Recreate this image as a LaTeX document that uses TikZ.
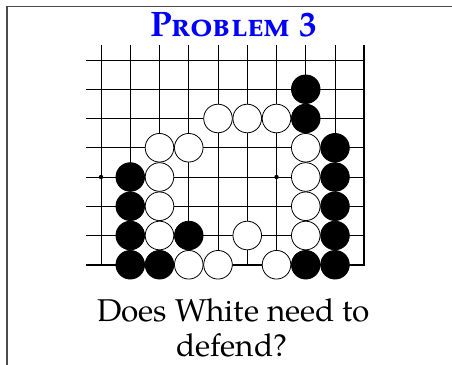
\documentclass[tikz,border=0pt]{standalone}
\usepackage{fontspec}
\setmainfont{TeX Gyre Pagella}
\begin{document}
\begin{tikzpicture}[x=1pt,y=-1pt,
  gridline/.style={line width=0.8pt, draw=black},
  edgeline/.style={line width=2pt, draw=black},
  bstone/.style={fill=black, draw=black, line width=0.8pt},
  wstone/.style={fill=white, draw=black, line width=0.8pt},
  framebox/.style={line width=1.3pt, draw=black!70},
  qtext/.style={font=\fontsize{31.5}{38}\selectfont, anchor=base, inner sep=0pt}]
\useasboundingbox (0,0) rectangle (452,364);
\clip (0,0) rectangle (452,364);
\draw[framebox] (7,6.7) rectangle (480,390);
\node[text=blue, font=\bfseries\scshape\fontsize{35.4}{40}\selectfont, anchor=base, inner sep=0pt] (title) at (233.5,36) {Problem 3};
\foreach \i in {0,...,8} \draw[gridline] ({101+29.25*\i},45) -- ({101+29.25*\i},265);
\foreach \j in {0,...,6} \draw[gridline] (86,{60+29.25*\j}) -- (364.25,{60+29.25*\j});
\draw[edgeline] (86,264.75) -- (364.25,264.75) -- (364.25,45);
\foreach \i/\j in {0/4,6/4} \fill ({101+29.25*\i},{60+29.25*\j}) circle (2.2);
\foreach \i/\j in {7/1,7/2,8/3,1/4,8/4,1/5,8/5,1/6,3/6,8/6,1/7,2/7,7/7,8/7}
  \draw[bstone] ({101+29.25*\i},{60+29.25*\j}) circle (14.3);
\foreach \i/\j in {4/2,5/2,6/2,2/3,3/3,7/3,2/4,7/4,2/5,7/5,2/6,5/6,7/6,3/7,4/7,6/7}
  \draw[wstone] ({101+29.25*\i},{60+29.25*\j}) circle (14.3);
\node[qtext] (q1) at (233.5,321) {Does White need to};
\node[qtext, text depth=0pt] (q2) at (232,356.7) {defend?};
\end{tikzpicture}
\end{document}
